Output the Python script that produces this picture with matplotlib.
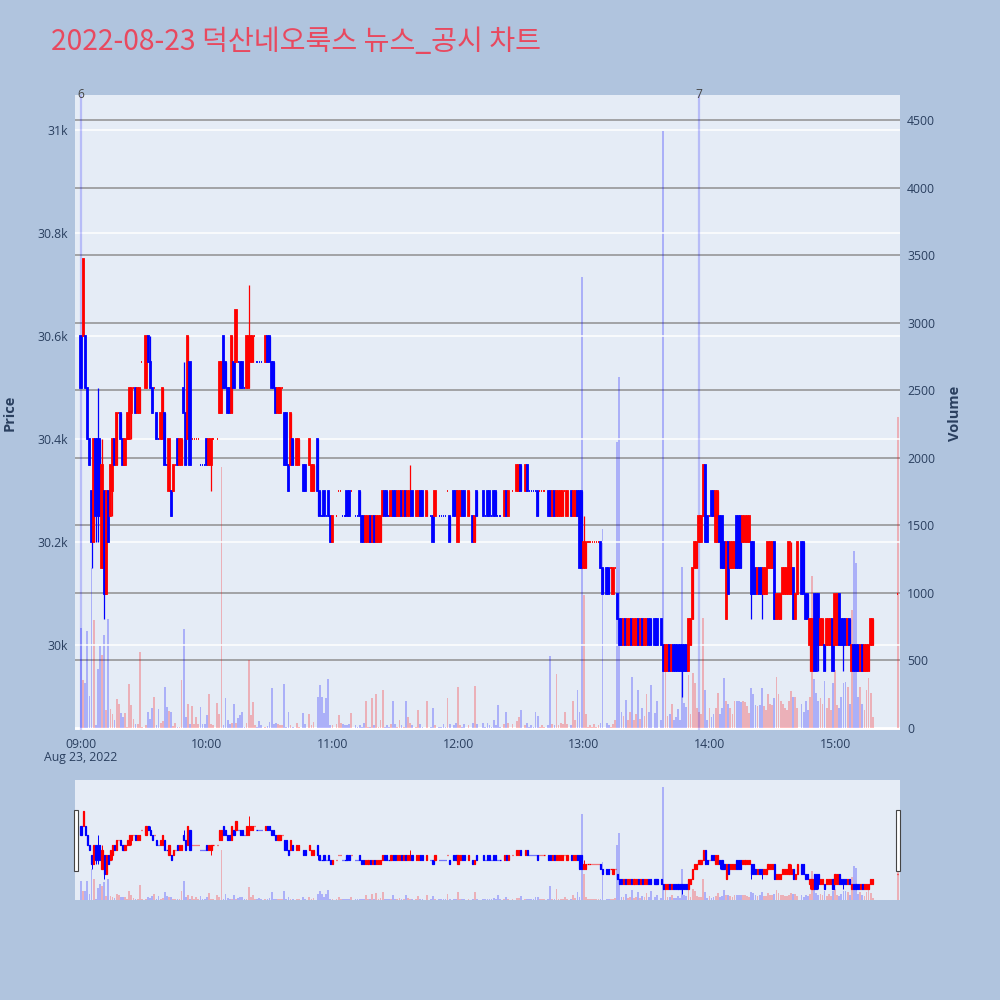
import matplotlib
matplotlib.use("Agg")
import matplotlib.pyplot as plt
import matplotlib.transforms as mtransforms
from matplotlib.patches import Rectangle

N = None

# minute index from 09:00 (0 .. 390 = 15:30)
minutes = list(range(391))

opens = [
    30600, 30600, 30600, 30500, 30400, 30300, 30200, 30400, 30400, 30400,
    30150, 30300, 30100, 30300, 30250, 30300, 30400, 30350, 30450, 30450,
    30400, 30350, 30400, 30400, 30450, 30500, 30500, 30450, 30450, 30550,
    N, 30500, 30600, 30550, 30500, 30500, 30450, 30400, 30400, 30400,
    30450, 30350, 30300, 30300, 30300, 30350, 30400, 30350, 30350, 30500,
    30450, 30400, 30550, 30400, 30400, 30400, 30400, 30350, 30350, 30350,
    30400, 30350, 30350, 30400, N, 30400, 30450, 30450, 30600, 30550,
    30500, 30500, 30450, 30550, 30550, 30550, 30550, 30550, 30500, 30500,
    30500, 30550, 30550, 30600, 30550, 30550, 30550, N, 30550, 30600,
    30600, 30550, 30550, 30500, 30450, 30450, 30500, 30450, 30450, 30350,
    30350, 30400, N, 30350, 30350, N, 30350, 30350, N, 30350,
    30300, 30300, N, 30400, 30300, 30250, 30300, 30250, 30300, 30250,
    30200, N, 30250, 30300, 30300, 30250, 30250, 30300, 30300, 30300,
    N, 30250, 30250, 30300, 30250, 30250, 30200, 30200, 30250, 30200,
    30250, 30200, 30200, 30200, 30250, 30300, 30300, 30250, 30250, 30300,
    30300, 30250, 30250, 30300, 30250, 30300, 30250, 30250, 30300, N,
    30250, 30250, 30300, 30300, N, 30250, N, 30250, 30250, 30250,
    N, 30250, 30250, 30250, 30250, 30300, 30250, N, 30300, 30300,
    30200, 30250, 30300, 30300, N, 30250, N, 30250, 30200, 30300,
    N, N, 30300, 30250, 30300, 30300, 30250, 30300, 30300, 30250,
    30250, N, 30250, 30300, 30250, N, 30300, N, 30300, 30300,
    30350, N, 30300, 30350, 30300, 30300, 30300, 30300, 30300, 30300,
    30300, 30300, N, 30300, 30300, 30250, 30300, 30250, 30250, 30250,
    30250, 30300, 30250, N, 30300, 30250, 30250, 30300, 30300, 30300,
    30150, 30150, 30200, 30200, 30200, 30200, 30200, 30200, 30200, 30150,
    N, 30150, 30150, 30150, 30100, 30150, 30100, 30050, 30050, 30000,
    30050, 30000, 30000, 30050, 30000, 30000, 30050, 30000, 30050, 30000,
    30000, 30050, 30050, N, 30050, 30050, N, 30050, 30000, 29950,
    29950, 30000, 29950, 30000, 30000, 30000, 30000, 30000, 30000, 30000,
    29950, 30000, 30050, 30150, 30150, 30200, 30200, 30250, 30350, 30250,
    30250, 30300, 30300, 30200, 30200, 30250, 30250, 30200, 30050, 30200,
    30150, 30150, 30150, 30250, 30250, 30250, 30200, 30200, 30200, 30200,
    30200, 30200, 30150, 30100, 30150, 30150, 30100, 30100, 30150, 30150,
    30150, 30200, 30050, 30050, 30050, 30100, 30100, 30100, 30100, 30100,
    30150, 30050, 30100, N, 30200, 30200, 30100, 30100, 30000, 29950,
    30100, 30100, 30100, 30000, 30000, 30000, 30000, 30000, 30000, 30050,
    30000, 30000, 30100, 30050, 30050, 30050, 30000, 30050, 29950, 30000,
    30000, 30000, 29950, 30000, 29950, 29950, 29950, 30000, 30000, N,
    N, N, N, N, N, N, N, N, N, N,
    30100,
]

highs = [
    30600, 30750, 30600, 30500, 30400, 30300, 30400, 30400, 30500, 30400,
    30400, 30300, 30300, 30300, 30350, 30400, 30400, 30450, 30450, 30450,
    30400, 30400, 30450, 30500, 30500, 30500, 30500, 30500, 30500, 30550,
    N, 30600, 30600, 30600, 30500, 30500, 30450, 30400, 30450, 30500,
    30450, 30350, 30400, 30300, 30350, 30350, 30400, 30400, 30400, 30550,
    30450, 30600, 30550, 30400, 30400, 30400, 30400, 30350, 30350, 30350,
    30400, 30400, 30400, 30400, N, 30400, 30550, 30550, 30600, 30550,
    30500, 30500, 30600, 30550, 30650, 30550, 30550, 30550, 30500, 30600,
    30700, 30600, 30600, 30600, 30550, 30550, 30550, N, 30600, 30600,
    30600, 30550, 30550, 30500, 30500, 30500, 30500, 30450, 30450, 30350,
    30450, 30400, N, 30400, 30400, N, 30350, 30350, N, 30400,
    30350, 30350, N, 30400, 30300, 30250, 30300, 30250, 30300, 30250,
    30250, N, 30250, 30300, 30300, 30250, 30250, 30300, 30300, 30300,
    N, 30250, 30250, 30300, 30250, 30250, 30250, 30250, 30250, 30250,
    30250, 30250, 30250, 30250, 30300, 30300, 30300, 30250, 30300, 30300,
    30300, 30300, 30300, 30300, 30300, 30300, 30300, 30350, 30300, N,
    30300, 30300, 30300, 30300, N, 30300, N, 30250, 30250, 30300,
    N, 30250, 30250, 30250, 30250, 30300, 30250, N, 30300, 30300,
    30300, 30300, 30300, 30300, N, 30300, N, 30250, 30250, 30300,
    N, N, 30300, 30250, 30300, 30300, 30250, 30300, 30300, 30250,
    30250, N, 30300, 30300, 30300, N, 30300, N, 30350, 30350,
    30350, N, 30350, 30350, 30300, 30300, 30300, 30300, 30300, 30300,
    30300, 30300, N, 30300, 30300, 30300, 30300, 30300, 30300, 30300,
    30300, 30300, 30300, N, 30300, 30300, 30300, 30300, 30300, 30300,
    30250, 30200, 30200, 30200, 30200, 30200, 30200, 30200, 30200, 30150,
    N, 30150, 30150, 30150, 30150, 30150, 30100, 30050, 30050, 30050,
    30050, 30050, 30050, 30050, 30050, 30050, 30050, 30050, 30050, 30050,
    30050, 30050, 30050, N, 30050, 30050, N, 30050, 30000, 30000,
    30000, 30000, 30000, 30000, 30000, 30000, 30000, 30000, 30000, 30000,
    30050, 30050, 30150, 30200, 30200, 30250, 30250, 30350, 30350, 30250,
    30250, 30300, 30300, 30300, 30300, 30250, 30250, 30200, 30200, 30200,
    30200, 30200, 30200, 30250, 30250, 30250, 30250, 30250, 30250, 30250,
    30200, 30200, 30150, 30150, 30150, 30150, 30150, 30150, 30200, 30200,
    30200, 30200, 30100, 30100, 30100, 30150, 30150, 30150, 30200, 30200,
    30150, 30100, 30200, N, 30200, 30200, 30100, 30100, 30050, 30050,
    30100, 30100, 30100, 30050, 30050, 30000, 30050, 30050, 30050, 30050,
    30100, 30100, 30100, 30050, 30050, 30050, 30050, 30050, 30000, 30000,
    30000, 30000, 30000, 30000, 30000, 30000, 30000, 30050, 30050, N,
    N, N, N, N, N, N, N, N, N, N,
    30100,
]

lows = [
    30500, 30600, 30500, 30400, 30350, 30150, 30200, 30200, 30200, 30250,
    30150, 30050, 30100, 30200, 30250, 30250, 30350, 30350, 30450, 30400,
    30350, 30350, 30400, 30400, 30400, 30500, 30450, 30450, 30450, 30550,
    N, 30500, 30550, 30500, 30450, 30500, 30400, 30400, 30400, 30400,
    30350, 30350, 30300, 30250, 30300, 30350, 30350, 30350, 30350, 30450,
    30350, 30400, 30350, 30400, 30400, 30400, 30400, 30350, 30350, 30350,
    30350, 30350, 30300, 30400, N, 30400, 30450, 30450, 30500, 30500,
    30450, 30450, 30450, 30500, 30550, 30550, 30500, 30500, 30500, 30500,
    30500, 30550, 30550, 30600, 30550, 30550, 30550, N, 30550, 30550,
    30550, 30500, 30500, 30450, 30450, 30450, 30500, 30350, 30350, 30300,
    30350, 30350, N, 30350, 30350, N, 30300, 30300, N, 30350,
    30300, 30300, N, 30250, 30250, 30250, 30250, 30250, 30250, 30200,
    30200, N, 30250, 30300, 30300, 30250, 30250, 30250, 30250, 30300,
    N, 30250, 30250, 30250, 30200, 30200, 30200, 30200, 30200, 30200,
    30200, 30200, 30200, 30200, 30250, 30250, 30250, 30250, 30250, 30250,
    30250, 30250, 30250, 30250, 30250, 30250, 30250, 30250, 30250, N,
    30250, 30250, 30250, 30250, N, 30250, N, 30250, 30200, 30250,
    N, 30250, 30250, 30250, 30250, 30300, 30200, N, 30250, 30250,
    30200, 30250, 30250, 30250, N, 30250, N, 30200, 30200, 30250,
    N, N, 30250, 30250, 30250, 30250, 30250, 30250, 30250, 30250,
    30250, N, 30250, 30250, 30250, N, 30300, N, 30300, 30300,
    30300, N, 30300, 30300, 30300, 30300, 30300, 30300, 30250, 30300,
    30300, 30300, N, 30250, 30250, 30250, 30250, 30250, 30250, 30250,
    30250, 30300, 30250, N, 30250, 30250, 30250, 30250, 30150, 30150,
    30150, 30150, 30200, 30200, 30200, 30200, 30200, 30200, 30150, 30100,
    N, 30100, 30100, 30150, 30100, 30150, 30050, 30000, 30000, 30000,
    30000, 30000, 30000, 30000, 30000, 30000, 30000, 30000, 30000, 30000,
    30000, 30000, 30000, N, 30000, 30000, N, 30000, 29950, 29950,
    29950, 29950, 29950, 29950, 29950, 29950, 29950, 29900, 29950, 29950,
    29950, 30000, 30050, 30150, 30150, 30200, 30200, 30250, 30200, 30200,
    30250, 30250, 30250, 30200, 30200, 30150, 30150, 30150, 30050, 30100,
    30150, 30150, 30150, 30150, 30150, 30150, 30200, 30200, 30200, 30200,
    30050, 30100, 30100, 30100, 30100, 30050, 30100, 30100, 30150, 30150,
    30150, 30050, 30050, 30050, 30050, 30100, 30100, 30100, 30100, 30100,
    30050, 30050, 30100, N, 30100, 30100, 30050, 30050, 29950, 29950,
    29950, 29950, 29950, 30000, 30000, 29950, 30000, 30000, 30000, 29950,
    30000, 30000, 30000, 30000, 29950, 30000, 30000, 30000, 29950, 29950,
    29950, 29950, 29950, 29950, 29950, 29950, 29950, 30000, 30000, N,
    N, N, N, N, N, N, N, N, N, N,
    30100,
]

closes = [
    30500, 30750, 30500, 30400, 30350, 30200, 30400, 30250, 30250, 30250,
    30350, 30100, 30300, 30200, 30350, 30400, 30350, 30450, 30450, 30400,
    30350, 30400, 30450, 30500, 30500, 30500, 30450, 30500, 30500, 30550,
    N, 30600, 30550, 30500, 30450, 30500, 30400, 30400, 30450, 30500,
    30350, 30350, 30400, 30250, 30350, 30350, 30350, 30400, 30400, 30450,
    30350, 30600, 30350, 30400, 30400, 30400, 30400, 30350, 30350, 30350,
    30350, 30400, 30400, 30400, N, 30400, 30550, 30550, 30500, 30500,
    30450, 30450, 30600, 30500, 30650, 30550, 30500, 30500, 30500, 30600,
    30600, 30600, 30600, 30600, 30550, 30550, 30550, N, 30600, 30550,
    30550, 30500, 30500, 30450, 30500, 30500, 30500, 30350, 30350, 30300,
    30450, 30350, N, 30400, 30400, N, 30300, 30300, N, 30400,
    30350, 30350, N, 30300, 30250, 30250, 30250, 30250, 30250, 30200,
    30250, N, 30250, 30300, 30300, 30250, 30250, 30250, 30250, 30300,
    N, 30250, 30250, 30250, 30200, 30200, 30250, 30250, 30200, 30250,
    30200, 30250, 30250, 30250, 30300, 30250, 30250, 30250, 30300, 30250,
    30250, 30300, 30300, 30250, 30300, 30250, 30300, 30300, 30250, N,
    30300, 30300, 30250, 30250, N, 30300, N, 30250, 30200, 30300,
    N, 30250, 30250, 30250, 30250, 30300, 30200, N, 30250, 30250,
    30300, 30300, 30250, 30250, N, 30300, N, 30200, 30250, 30250,
    N, N, 30250, 30250, 30250, 30250, 30250, 30250, 30250, 30250,
    30250, N, 30300, 30250, 30300, N, 30300, N, 30350, 30350,
    30300, N, 30350, 30300, 30300, 30300, 30300, 30300, 30250, 30300,
    30300, 30300, N, 30250, 30250, 30300, 30250, 30300, 30300, 30300,
    30300, 30300, 30300, N, 30250, 30300, 30300, 30250, 30150, 30150,
    30200, 30200, 30200, 30200, 30200, 30200, 30200, 30200, 30150, 30100,
    N, 30100, 30100, 30150, 30150, 30150, 30050, 30000, 30000, 30050,
    30000, 30050, 30050, 30000, 30050, 30050, 30000, 30050, 30000, 30050,
    30050, 30000, 30000, N, 30000, 30000, N, 30000, 29950, 30000,
    30000, 29950, 30000, 29950, 29950, 29950, 29950, 29950, 29950, 29950,
    30050, 30050, 30150, 30200, 30200, 30250, 30250, 30350, 30200, 30200,
    30250, 30250, 30250, 30300, 30300, 30200, 30150, 30150, 30200, 30100,
    30200, 30200, 30200, 30150, 30150, 30150, 30250, 30250, 30250, 30250,
    30100, 30100, 30100, 30150, 30100, 30100, 30150, 30150, 30200, 30200,
    30200, 30050, 30100, 30100, 30100, 30150, 30150, 30150, 30200, 30150,
    30050, 30100, 30200, N, 30100, 30100, 30050, 30050, 30050, 30050,
    29950, 29950, 30000, 30050, 30050, 29950, 30050, 30050, 30050, 29950,
    30100, 30100, 30000, 30000, 30000, 30000, 30050, 30000, 30000, 29950,
    29950, 29950, 30000, 29950, 30000, 30000, 30000, 30050, 30050, N,
    N, N, N, N, N, N, N, N, N, N,
    30100,
]

volumes = [
    740, 357, 332, 717, 233, 1185, 798, 22, 436, 605,
    543, 687, 134, 803, 139, 102, 60, 216, 176, 114,
    84, 109, 10, 327, 171, 64, 27, 30, 560, 10,
    N, 20, 119, 64, 149, 228, 25, 144, 40, 55,
    302, 154, 122, 119, 12, 40, 10, 10, 357, 729,
    84, 176, 30, 159, 30, 84, 30, 154, 30, 30,
    96, 253, 30, 20, N, 184, 100, 1930, 20, 223,
    60, 30, 40, 176, 35, 72, 99, 119, 10, 40,
    506, 97, 193, 20, 10, 50, 25, N, 10, 15,
    45, 293, 30, 40, 30, 20, 20, 327, 10, 119,
    25, 10, N, 35, 10, N, 109, 30, N, 104,
    20, 47, N, 226, 320, 226, 114, 223, 362, 20,
    20, N, 30, 99, 35, 30, 20, 20, 30, 109,
    N, 20, 10, 20, 10, 40, 200, 10, 10, 220,
    20, 250, 10, 60, 280, 10, 20, 10, 30, 200,
    30, 10, 60, 20, 10, 200, 80, 40, 20, N,
    10, 130, 30, 10, N, 200, N, 10, 150, 20,
    N, 10, 10, 30, 10, 220, 30, N, 20, 40,
    300, 20, 10, 30, N, 20, N, 40, 310, 30,
    N, N, 40, 10, 40, 20, 10, 60, 20, 170,
    10, N, 30, 120, 40, N, 30, N, 50, 80,
    130, N, 20, 40, 10, 20, 10, 120, 90, 10,
    20, 10, N, 20, 530, 30, 20, 400, 20, 40,
    30, 120, 30, N, 20, 200, 60, 280, 120, 3340,
    985, 100, 10, 20, 10, 30, 10, 20, 40, 1472,
    N, 40, 20, 10, 30, 60, 2120, 2600, 120, 90,
    207, 60, 120, 380, 60, 100, 280, 70, 150, 90,
    250, 120, 320, N, 110, 200, N, 60, 4420, 430,
    90, 100, 180, 60, 80, 140, 60, 1195, 183, 158,
    393, 100, 405, 330, 150, 120, 100, 813, 282, 60,
    150, 80, 100, 150, 257, 100, 150, 368, 200, 180,
    150, 100, 200, 200, 200, 190, 200, 190, 160, 110,
    294, 250, 170, 160, 170, 294, 160, 130, 250, 180,
    170, 220, 375, 250, 200, 180, 150, 130, 200, 270,
    230, 230, 150, N, 180, 120, 200, 130, 230, 1126,
    360, 260, 200, 220, 180, 350, 150, 220, 130, 330,
    430, 170, 150, 230, 330, 340, 300, 180, 874, 1307,
    1220, 230, 300, 180, 130, 280, 370, 260, 80, N,
    N, N, N, N, N, N, N, N, N, N,
    2300,
]

hour_ticks = [0, 60, 120, 180, 240, 300, 360]
hour_labels = ["09:00", "10:00", "11:00", "12:00", "13:00", "14:00", "15:00"]
price_ticks = [30000, 30200, 30400, 30600, 30800, 31000]
price_labels = ["30k", "30.2k", "30.4k", "30.6k", "30.8k", "31k"]
volume_ticks = [0, 500, 1000, 1500, 2000, 2500, 3000, 3500, 4000, 4500]
news_minutes = [0, 295]
news_labels = ["6", "7"]

TITLE = "2022-08-23 덕산네오룩스 뉴스_공시 차트"
RED = "#FF0000"
BLUE = "#0000FF"
PAPER = "#B0C4DE"
PLOT_BG = "#E5ECF6"
FONT_COL = "#2a3f5f"

plt.rcParams['font.family'] = ['Open Sans', 'Noto Sans CJK KR', 'DejaVu Sans']

# candle direction (flat candles follow previous close, like plotly)
dirs = []
prev_c, prev_d = None, 1
for o, c in zip(opens, closes):
    if o is None:
        dirs.append(None)
        continue
    if c > o:
        d = 1
    elif c < o:
        d = -1
    elif prev_c is None or c == prev_c:
        d = prev_d
    else:
        d = 1 if c > prev_c else -1
    dirs.append(d)
    prev_c, prev_d = c, d

xs, bodies, bottoms, cols, lo, hi, vcols, vx, vv = [], [], [], [], [], [], [], [], []
for t, o, h, l, c, d, v in zip(minutes, opens, highs, lows, closes, dirs, volumes):
    if o is None:
        continue
    xs.append(t)
    bottoms.append(min(o, c))
    bodies.append(abs(c - o))
    cols.append(RED if d > 0 else BLUE)
    lo.append(l)
    hi.append(h)
    if v is not None:
        vx.append(t)
        vv.append(v)
        vcols.append((1, 0, 0, 0.25) if d > 0 else (0, 0, 1, 0.25))

XLIM = (-2.9, 391.0)
PLIM = (29835, 31068)
VLIM = (-15, 4685)


def draw(ax_p, ax_v, body_lw, wick_lw):
    ax_v.bar(vx, vv, width=0.85, color=vcols, linewidth=0, zorder=2)
    ax_p.vlines(xs, lo, hi, colors=cols, linewidth=wick_lw, zorder=3)
    ax_p.bar(xs, bodies, width=0.55, bottom=bottoms, color=cols,
             edgecolor=cols, linewidth=body_lw, zorder=4)
    ax_p.set_xlim(*XLIM)
    ax_p.set_ylim(*PLIM)
    ax_v.set_ylim(*VLIM)
    for a in (ax_p, ax_v):
        for s in a.spines.values():
            s.set_visible(False)


fig = plt.figure(figsize=(10, 10), dpi=100, facecolor=PAPER)

# main chart
ax = fig.add_axes([0.075, 0.27, 0.825, 0.635])
axv = ax.twinx()
ax.set_zorder(axv.get_zorder() + 1)
ax.patch.set_visible(False)
axv.patch.set_visible(True)
axv.set_facecolor(PLOT_BG)

for y in volume_ticks[1:]:
    axv.axhline(y, color="#8f8f8f", linewidth=1.1, zorder=1)
axv.axhline(0, color="white", linewidth=2, zorder=1)
for y in price_ticks:
    ax.axhline(y, color="white", linewidth=1.1, zorder=1)

trans = mtransforms.blended_transform_factory(ax.transData, ax.transAxes)
for m, lab in zip(news_minutes, news_labels):
    ax.axvline(m, color=(0, 0, 1, 0.2), linewidth=1.6, zorder=2)
    ax.text(m, 1.0, lab, transform=trans, ha="center", va="center",
            fontsize=8.6, color="#444444")

draw(ax, axv, 1.3, 0.9)

ax.set_yticks(price_ticks)
ax.set_yticklabels(price_labels)
axv.set_yticks(volume_ticks)
axv.set_yticklabels([str(v) for v in volume_ticks])
ax.set_xticks(hour_ticks)
ax.set_xticklabels(hour_labels)
ax.tick_params(axis="both", length=0, labelsize=8.8, colors=FONT_COL, pad=5)
axv.tick_params(axis="y", length=0, labelsize=8.8, colors=FONT_COL, pad=5)
ax.tick_params(axis="x", pad=6)

fig.text(0.081, 0.242, "Aug 23, 2022", ha="center", va="center",
         fontsize=8.8, color=FONT_COL)
fig.text(0.010, 0.587, "Price", rotation=90, ha="center", va="center",
         fontsize=10.5, fontweight="bold", color=FONT_COL)
fig.text(0.955, 0.587, "Volume", rotation=90, ha="center", va="center",
         fontsize=10.5, fontweight="bold", color=FONT_COL)
fig.text(0.051, 0.950, TITLE, ha="left", va="baseline", fontsize=20.3,
         color="#E8495F", family=["Noto Sans CJK KR", "DejaVu Sans"])

# range slider
axs = fig.add_axes([0.075, 0.10, 0.825, 0.12])
axsv = axs.twinx()
axs.set_zorder(axsv.get_zorder() + 1)
axs.patch.set_visible(False)
axsv.patch.set_visible(True)
axsv.set_facecolor(PLOT_BG)
draw(axs, axsv, 0.9, 0.7)
for a in (axs, axsv):
    a.set_xticks([])
    a.set_yticks([])

for hx in (0.0735, 0.8955):
    fig.add_artist(Rectangle((hx, 0.129), 0.0045, 0.061, transform=fig.transFigure,
                             facecolor="white", edgecolor="#444444", linewidth=0.8))

fig.savefig("out.png", dpi=100, facecolor=PAPER)
